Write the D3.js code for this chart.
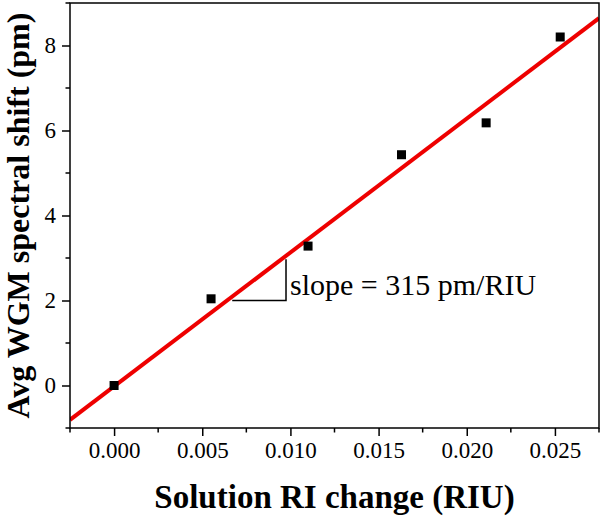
<!DOCTYPE html>
<html>
<head>
<meta charset="utf-8">
<script src="https://cdn.jsdelivr.net/npm/d3@7"></script>
<style>
  body { margin: 0; background: #fff; }
  svg { display: block; }
  text { font-family: "Liberation Serif", "Times New Roman", serif; fill: #000; }
</style>
</head>
<body>
<svg id="chart" width="601" height="519"></svg>
<script>
// measured points
const riChange = [0.0, 0.0055, 0.0110, 0.0163, 0.0211, 0.0253];
const wgmShift = [0.0, 2.04, 3.28, 5.43, 6.18, 8.20];

// linear fit
const fitSlope = 315;
const fitIntercept = -0.02;

const xTicks = [0.000, 0.005, 0.010, 0.015, 0.020, 0.025];
const xMinor = [-0.0025, 0.0025, 0.0075, 0.0125, 0.0175, 0.0225, 0.0275];
const yTicks = [0, 2, 4, 6, 8];
const yMinor = [-1, 1, 3, 5, 7, 9];

const serif = '"Liberation Serif", "Times New Roman", serif';
const svg = d3.select('#chart');
const plotL = 70, plotR = 599, plotT = 3, plotB = 428;

const x = d3.scaleLinear().domain([-0.0025, 0.0275]).range([plotL, plotR]);
const y = d3.scaleLinear().domain([-1, 9]).range([plotB, plotT]);

svg.append('clipPath').attr('id', 'clip')
    .append('rect').attr('x', plotL).attr('y', plotT)
    .attr('width', plotR - plotL).attr('height', plotB - plotT);

// fit line
const xd = x.domain();
svg.append('line')
    .attr('clip-path', 'url(#clip)')
    .attr('x1', x(xd[0])).attr('y1', y(fitSlope * xd[0] + fitIntercept))
    .attr('x2', x(xd[1])).attr('y2', y(fitSlope * xd[1] + fitIntercept))
    .attr('stroke', '#ee0000').attr('stroke-width', 4);

// points
const pts = riChange.map((v, i) => ({x: v, y: wgmShift[i]}));
svg.selectAll('rect.pt').data(pts).enter().append('rect')
    .attr('class', 'pt')
    .attr('x', d => x(d.x) - 4.5).attr('y', d => y(d.y) - 4.5)
    .attr('width', 9).attr('height', 9)
    .attr('fill', '#000');

// slope triangle
const triX0 = 0.0067, triX1 = 0.00975, triY0 = 2.0, triY1 = 2.97;
svg.append('path')
    .attr('d', 'M' + x(triX0) + ',' + y(triY0) + 'H' + x(triX1) + 'V' + y(triY1))
    .attr('fill', 'none').attr('stroke', '#000').attr('stroke-width', 1.5);
svg.append('text')
    .attr('x', x(triX1) + 4).attr('y', y(triY0) - 6)
    .style('font-family', serif)
    .attr('font-size', 30)
    .text('slope = 315 pm/RIU');

// axes
const xAxis = d3.axisBottom(x).tickValues(xTicks).tickFormat(d3.format('.3f'))
    .tickSize(8).tickPadding(6);
const gx = svg.append('g').attr('transform', 'translate(0,' + plotB + ')').call(xAxis);
svg.append('g').attr('transform', 'translate(0,' + plotB + ')')
    .selectAll('line').data(xMinor).enter().append('line')
    .attr('x1', d => x(d)).attr('x2', d => x(d))
    .attr('y1', 0).attr('y2', 4.5)
    .attr('stroke', '#000').attr('stroke-width', 1.5);

const yAxis = d3.axisLeft(y).tickValues(yTicks).tickSize(8).tickPadding(6);
const gy = svg.append('g').attr('transform', 'translate(' + plotL + ',0)').call(yAxis);
svg.append('g').attr('transform', 'translate(' + plotL + ',0)')
    .selectAll('line').data(yMinor).enter().append('line')
    .attr('y1', d => y(d)).attr('y2', d => y(d))
    .attr('x1', 0).attr('x2', -4.5)
    .attr('stroke', '#000').attr('stroke-width', 1.5);

[gx, gy].forEach(g => {
    g.attr('font-family', null).attr('font-size', null);
    g.select('.domain').remove();
    g.selectAll('.tick line').attr('stroke', '#000').attr('stroke-width', 1.5);
    g.selectAll('.tick text')
        .style('font-family', serif)
        .style('font-size', '23px').attr('fill', '#000');
});

// frame
svg.append('rect')
    .attr('x', plotL).attr('y', plotT)
    .attr('width', plotR - plotL).attr('height', plotB - plotT)
    .attr('fill', 'none').attr('stroke', '#000').attr('stroke-width', 1.5);

// titles
svg.append('text')
    .attr('x', (plotL + plotR) / 2).attr('y', 508)
    .attr('text-anchor', 'middle')
    .style('font-family', serif)
    .attr('font-size', 33).attr('font-weight', 'bold')
    .text('Solution RI change (RIU)');
svg.append('text')
    .attr('transform', 'translate(29,' + (plotT + plotB) / 2 + ') rotate(-90)')
    .attr('text-anchor', 'middle')
    .style('font-family', serif)
    .attr('font-size', 32).attr('font-weight', 'bold')
    .text('Avg WGM spectral shift (pm)');
</script>
</body>
</html>
